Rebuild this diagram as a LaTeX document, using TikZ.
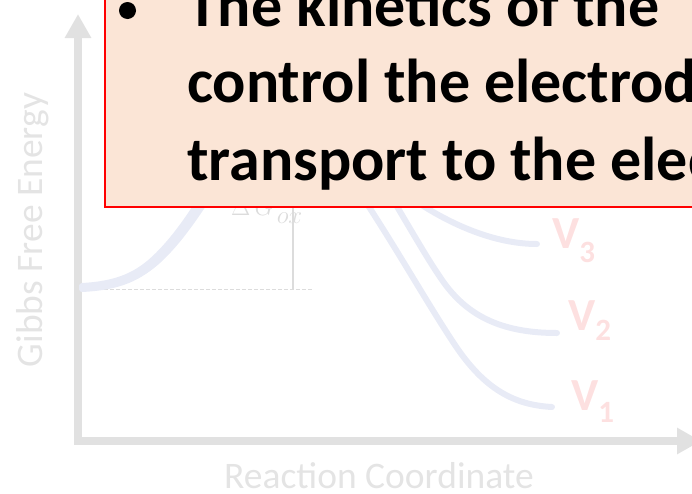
\documentclass[tikz,border=0pt]{standalone}
\usepackage{fontspec}
\setmainfont{Carlito}
\usetikzlibrary{arrows.meta}
\definecolor{axisgray}{HTML}{E1E1E1}
\definecolor{labelgray}{HTML}{E4E4E4}
\definecolor{curveblue}{HTML}{E8EBF6}
\definecolor{vpink}{HTML}{FDE0E0}
\definecolor{boxfill}{HTML}{FBE5D6}
\definecolor{dgray}{HTML}{DCDCDC}
\tikzset{
  axis/.style={draw=axisgray, line width=8pt, line join=miter,
    {Triangle[width=25pt,length=24pt]}-{Triangle[width=25pt,length=24pt]}},
  curve/.style={draw=curveblue, line width=6pt, line cap=round},
  vlabel/.style={text=vpink, font=\bfseries\fontsize{46}{46}\selectfont, anchor=base west, inner sep=0},
  bigtext/.style={text=black, font=\bfseries\fontsize{62}{62}\selectfont, anchor=base west, inner sep=0},
  axlabel/.style={text=labelgray, font=\fontsize{37.5}{37.5}\selectfont, inner sep=0},
}
\newcommand{\vsub}[2]{\raisebox{-#1pt}{\fontsize{31}{31}\selectfont #2}}
\begin{document}
\begin{tikzpicture}[x=1pt,y=-1pt]
\useasboundingbox (0,0) rectangle (692,493);
\clip (0,0) rectangle (692,493);
% axes
\coordinate (ytip) at (78,14);
\coordinate (origin) at (78,441);
\coordinate (xtip) at (701,441);
\draw[axis] (ytip) -- (origin) -- (xtip);
\node[axlabel, rotate=90, anchor=base] (ylab) at (42,230) {Gibbs Free Energy};
\node[axlabel, anchor=base] (xlab) at (379,488) {Reaction Coordinate};
% reference level and Delta G
\coordinate (dl) at (80,289);
\coordinate (dr) at (312,289);
\draw[dgray, line width=0.8pt, dash pattern=on 4pt off 2pt] (dl) -- (dr);
\coordinate (gb) at (293,289);
\coordinate (gt) at (293,200);
\draw[dgray, line width=1.5pt] (gb) -- (gt);
\node[text=dgray, anchor=base west, inner sep=0] (dg) at (231,215)
  {\fontsize{32}{32}\selectfont$\Delta\,G$\hspace{3pt}\raisebox{-8pt}{\fontsize{28}{28}\selectfont$ox$}};
% left rising strands
\draw[curve] (82,289) .. controls (120,287) and (140,278) .. (160,258) .. controls (180,238) and (195,215) .. (220,175);
\draw[curve] (82,286) .. controls (118,284) and (138,275) .. (158,255) .. controls (178,235) and (193,212) .. (218,172);
\draw[curve] (82,288) .. controls (122,285) and (143,276) .. (163,256) .. controls (183,236) and (198,213) .. (224,173);
% right descending curves
\draw[curve] (350,178) .. controls (395,245) and (425,300) .. (455,345) .. controls (485,390) and (515,405) .. (552,407);
\draw[curve] (380,178) .. controls (410,228) and (425,255) .. (440,277) .. controls (465,315) and (500,333) .. (557,333);
\draw[curve] (400,190) .. controls (440,220) and (490,244) .. (537,244);
% V labels
\node[vlabel] (v3) at (552,248) {V\vsub{14}{3}};
\node[vlabel] (v2) at (568,330) {V\vsub{10}{2}};
\node[vlabel] (v1) at (571,410) {V\vsub{12}{1}};
% text box
\draw[red, line width=1.5pt, fill=boxfill] (105,207) rectangle (720,-20);
\fill[black] (127.5,10.5) circle (8.5);
\node[bigtext] (l1) at (187,26) {The kinetics of the};
\node[bigtext] (l2) at (187,102) {control the electrode};
\node[bigtext] (l3) at (187,180) {transport to the electrode};
\end{tikzpicture}
\end{document}
